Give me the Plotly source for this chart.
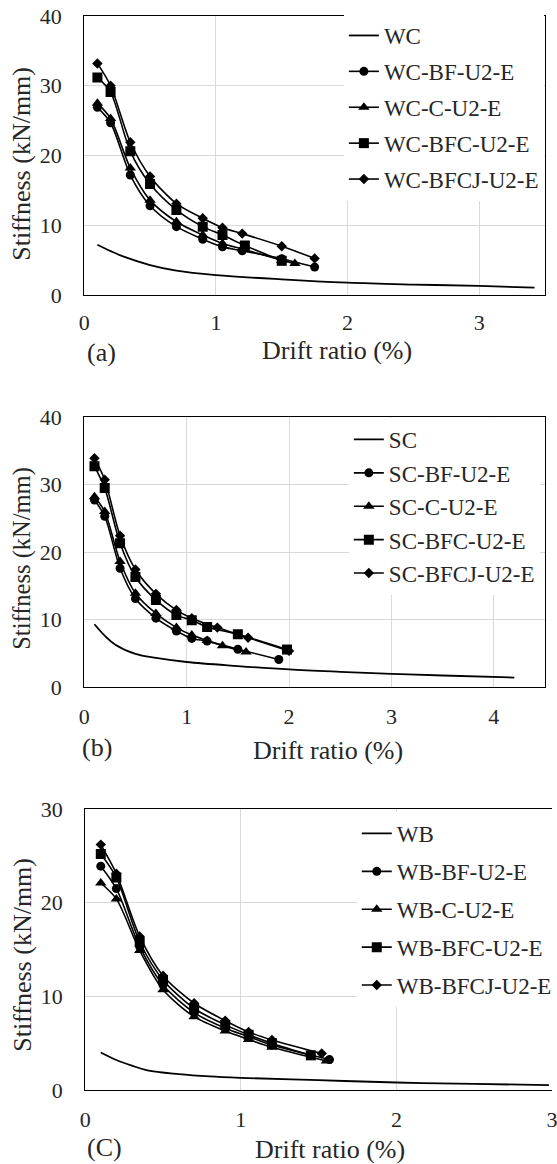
import plotly.graph_objects as go

# ---------------- data ----------------
# Panel (a)
a_wc_x = [0.1, 0.2, 0.3, 0.5, 0.7, 1.0, 1.5, 2.0, 2.5, 3.0, 3.42]
a_wc_y = [7.2, 6.3, 5.5, 4.3, 3.5, 2.86, 2.24, 1.77, 1.5, 1.3, 1.05]
a_bf_x = [0.1, 0.2, 0.35, 0.5, 0.7, 0.9, 1.05, 1.2, 1.5, 1.75]
a_bf_y = [26.9, 24.7, 17.2, 12.8, 9.8, 8.0, 6.9, 6.35, 5.2, 4.0]
a_c_x = [0.1, 0.2, 0.35, 0.5, 0.7, 0.9, 1.05, 1.2, 1.5, 1.6]
a_c_y = [27.5, 25.3, 18.2, 13.6, 10.5, 8.6, 7.4, 6.6, 5.0, 4.5]
a_bfc_x = [0.1, 0.2, 0.35, 0.5, 0.7, 0.9, 1.05, 1.22, 1.5]
a_bfc_y = [31.2, 29.1, 20.6, 15.9, 12.2, 9.8, 8.6, 7.1, 4.9]
a_bfcj_x = [0.1, 0.2, 0.35, 0.5, 0.7, 0.9, 1.05, 1.2, 1.5, 1.75]
a_bfcj_y = [33.2, 30.0, 21.9, 17.0, 13.1, 11.0, 9.65, 8.8, 7.0, 5.25]

# Panel (b)
b_sc_x = [0.1, 0.2, 0.3, 0.5, 0.7, 1.0, 1.5, 2.0, 2.5, 3.0, 3.5, 4.2]
b_sc_y = [9.3, 7.6, 6.3, 4.9, 4.3, 3.7, 3.1, 2.6, 2.25, 1.95, 1.7, 1.4]
b_bf_x = [0.1, 0.2, 0.35, 0.5, 0.7, 0.9, 1.05, 1.2, 1.5, 1.9]
b_bf_y = [27.7, 25.3, 17.6, 13.1, 10.2, 8.3, 7.2, 6.8, 5.6, 4.07]
b_c_x = [0.1, 0.2, 0.35, 0.5, 0.7, 0.9, 1.05, 1.2, 1.35, 1.58]
b_c_y = [28.2, 26.0, 18.6, 13.9, 10.9, 8.8, 7.7, 6.9, 6.1, 5.2]
b_bfc_x = [0.1, 0.2, 0.35, 0.5, 0.7, 0.9, 1.05, 1.2, 1.5, 1.98]
b_bfc_y = [32.7, 29.5, 21.3, 16.3, 12.9, 10.65, 9.9, 8.9, 7.8, 5.55]
b_bfcj_x = [0.1, 0.2, 0.35, 0.5, 0.7, 0.9, 1.05, 1.3, 1.6, 2.0]
b_bfcj_y = [33.9, 30.7, 22.4, 17.4, 13.8, 11.4, 10.2, 8.8, 7.3, 5.35]

# Panel (c)
c_wb_x = [0.1, 0.2, 0.3, 0.4, 0.6, 0.8, 1.0, 1.5, 2.0, 2.5, 2.98]
c_wb_y = [4.0, 3.2, 2.6, 2.1, 1.7, 1.45, 1.3, 1.05, 0.8, 0.65, 0.52]
c_bf_x = [0.1, 0.2, 0.35, 0.5, 0.7, 0.9, 1.05, 1.2, 1.57]
c_bf_y = [23.9, 21.5, 15.3, 11.2, 8.26, 6.6, 5.7, 4.8, 3.25]
c_c_x = [0.1, 0.2, 0.35, 0.5, 0.7, 0.9, 1.05, 1.2, 1.55]
c_c_y = [22.1, 20.4, 14.9, 10.7, 7.83, 6.3, 5.4, 4.56, 3.1]
c_bfc_x = [0.1, 0.2, 0.35, 0.5, 0.7, 0.9, 1.05, 1.2, 1.45]
c_bfc_y = [25.2, 22.7, 15.8, 11.75, 8.7, 6.95, 5.9, 5.0, 3.7]
c_bfcj_x = [0.1, 0.2, 0.35, 0.5, 0.7, 0.9, 1.05, 1.2, 1.52]
c_bfcj_y = [26.2, 23.1, 16.4, 12.2, 9.26, 7.4, 6.2, 5.34, 3.9]

panels = [
    ("WC", [("WC", a_wc_x, a_wc_y), ("WC-BF-U2-E", a_bf_x, a_bf_y), ("WC-C-U2-E", a_c_x, a_c_y),
            ("WC-BFC-U2-E", a_bfc_x, a_bfc_y), ("WC-BFCJ-U2-E", a_bfcj_x, a_bfcj_y)]),
    ("SC", [("SC", b_sc_x, b_sc_y), ("SC-BF-U2-E", b_bf_x, b_bf_y), ("SC-C-U2-E", b_c_x, b_c_y),
            ("SC-BFC-U2-E", b_bfc_x, b_bfc_y), ("SC-BFCJ-U2-E", b_bfcj_x, b_bfcj_y)]),
    ("WB", [("WB", c_wb_x, c_wb_y), ("WB-BF-U2-E", c_bf_x, c_bf_y), ("WB-C-U2-E", c_c_x, c_c_y),
            ("WB-BFC-U2-E", c_bfc_x, c_bfc_y), ("WB-BFCJ-U2-E", c_bfcj_x, c_bfcj_y)]),
]
x_ranges = [[0, 3.5], [0, 4.5], [0, 3.0]]
y_ranges = [[0, 40], [0, 40], [0, 30]]
y_dticks = [10, 10, 10]
panel_labels = ["(a)", "(b)", "(C)"]

# ---------------- layout helpers ----------------
W, H = 557, 1164
FONT = "Liberation Serif, Times New Roman, serif"
TXT = "#262626"

def px(x):
    return x / W

def py(y):
    return 1 - y / H

# plot boxes in pixels: (left, right, top, bottom)
boxes = [(85, 550, 16, 295), (85, 550, 417, 687), (86, 558, 809, 1090)]
symbols = [None, "circle", "triangle-up", "square", "diamond"]
msizes = [0, 9, 10, 10, 8]
legend_pos = [(347, 14), (352, 418), (360, 812)]
legend_gaps = [3, 0.5, 5]
x_standoff = [7, 9, 9]

fig = go.Figure()
for i, (name, series) in enumerate(panels):
    xa = "x" if i == 0 else f"x{i+1}"
    ya = "y" if i == 0 else f"y{i+1}"
    lg = "legend" if i == 0 else f"legend{i+1}"
    for j, (lab, xs, ys) in enumerate(series):
        if j == 0:
            fig.add_trace(go.Scatter(
                x=xs, y=ys, name=lab, mode="lines",
                line=dict(color="black", width=1.8, shape="spline", smoothing=1.0),
                xaxis=xa, yaxis=ya, legend=lg, legendgroup=f"{i}-{j}"))
        else:
            fig.add_trace(go.Scatter(
                x=xs, y=ys, name=lab, mode="lines+markers",
                line=dict(color="black", width=1.6, shape="spline", smoothing=0.8),
                marker=dict(symbol=symbols[j], size=msizes[j], color="black"),
                xaxis=xa, yaxis=ya, legend=lg, legendgroup=f"{i}-{j}"))

layout = dict(
    width=W, height=H,
    margin=dict(l=0, r=0, t=0, b=0),
    paper_bgcolor="white", plot_bgcolor="white",
    font=dict(family=FONT, color=TXT, size=22),
    showlegend=True,
    annotations=[],
)

for i in range(3):
    l, r, t, b = boxes[i]
    xk = "xaxis" if i == 0 else f"xaxis{i+1}"
    yk = "yaxis" if i == 0 else f"yaxis{i+1}"
    xa = "x" if i == 0 else f"x{i+1}"
    ya = "y" if i == 0 else f"y{i+1}"
    layout[xk] = dict(
        domain=[px(l), min(1.0, px(r))], range=x_ranges[i], anchor=ya, dtick=1,
        showgrid=True, gridcolor="#d9d9d9", gridwidth=1, zeroline=False,
        showline=True, linecolor="black", linewidth=1.3, mirror=True,
        ticks="", ticklabelstandoff=x_standoff[i], automargin=False, ticklabeloverflow="allow",
        tickfont=dict(family=FONT, size=22, color=TXT), fixedrange=True)
    layout[yk] = dict(
        domain=[py(b), py(t)], range=y_ranges[i], anchor=xa, dtick=y_dticks[i],
        showgrid=True, gridcolor="#d9d9d9", gridwidth=1, zeroline=False,
        showline=True, linecolor="black", linewidth=1.3, mirror=(i != 2),
        ticks="", ticklabelstandoff=17, automargin=False,
        tickfont=dict(family=FONT, size=22, color=TXT), fixedrange=True)
    lk = "legend" if i == 0 else f"legend{i+1}"
    lx, ly = legend_pos[i]
    layout[lk] = dict(
        x=px(lx), y=py(ly), xanchor="left", yanchor="top", xref="paper", yref="paper",
        bgcolor="white", borderwidth=0, tracegroupgap=legend_gaps[i],
        font=dict(family=FONT, size=23, color=TXT), itemwidth=30)

# axis titles and panel labels as annotations
ytitle_pos = [(22, 164, 26), (22, 558, 24.5), (22, 955, 26)]
xtitle_pos = [(340, 350), (331, 750), (333, 1149)]
plab_pos = [(102, 352), (98, 747), (105, 1147)]
for i in range(3):
    yx, yy, ys = ytitle_pos[i]
    layout["annotations"].append(dict(
        text="Stiffness (kN/mm)", x=px(yx), y=py(yy), xref="paper", yref="paper",
        showarrow=False, textangle=-90, xanchor="center", yanchor="middle",
        font=dict(family=FONT, size=ys, color=TXT)))
    tx, ty = xtitle_pos[i]
    layout["annotations"].append(dict(
        text="Drift ratio (%)", x=px(tx), y=py(ty), xref="paper", yref="paper",
        showarrow=False, xanchor="center", yanchor="middle",
        font=dict(family=FONT, size=26, color=TXT)))
    lx, lyy = plab_pos[i]
    layout["annotations"].append(dict(
        text=panel_labels[i], x=px(lx), y=py(lyy), xref="paper", yref="paper",
        showarrow=False, xanchor="center", yanchor="middle",
        font=dict(family=FONT, size=26, color=TXT)))

fig.update_layout(**layout)
fig.write_html("out.html")
